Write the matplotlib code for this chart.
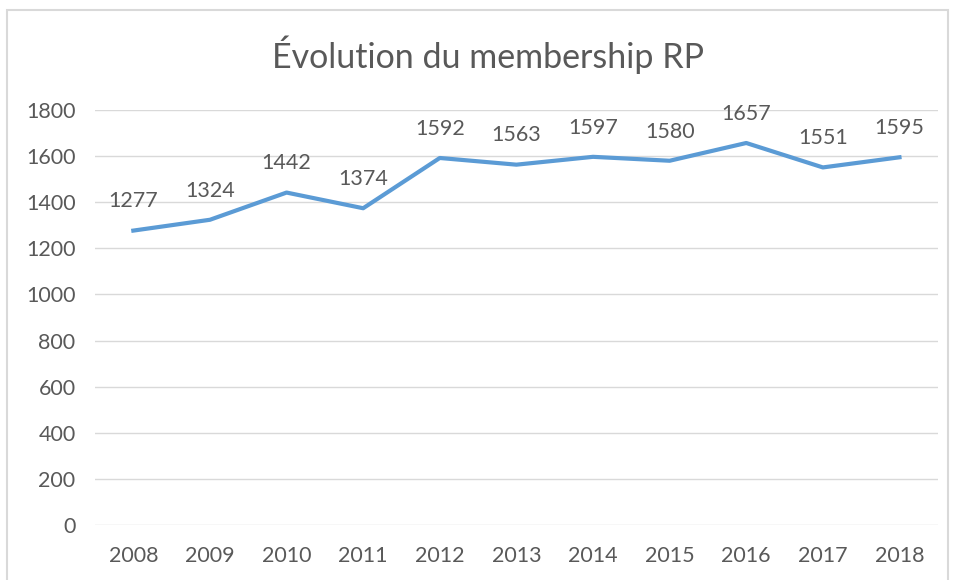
import matplotlib
matplotlib.use("Agg")
import matplotlib.pyplot as plt
from matplotlib.patches import Rectangle

years = ["2008", "2009", "2010", "2011", "2012", "2013", "2014", "2015", "2016", "2017", "2018"]
members = [1277, 1324, 1442, 1374, 1592, 1563, 1597, 1580, 1657, 1551, 1595]

plt.rcParams['font.family'] = ['Lato', 'DejaVu Sans']
grey = '#595959'

fig = plt.figure(figsize=(9.54, 5.8), dpi=100)
ax = fig.add_axes([0.0996, 0.0948, 0.8834, 0.7155])

x = list(range(len(years)))
ax.plot(x, members, color='#5B9BD5', lw=3, solid_joinstyle='round', zorder=3)
for xi, v in zip(x, members):
    ax.annotate(str(v), (xi, v), xytext=(0, 21), textcoords='offset points',
                ha='center', va='center', fontsize=15.5, color=grey)

ax.set_xlim(-0.5, len(years) - 0.5)
ax.set_ylim(0, 1800)
ax.set_yticks(range(0, 1801, 200))
ax.set_xticks(x)
ax.set_xticklabels(years)
ax.tick_params(length=0, labelsize=15.5, labelcolor=grey)
ax.tick_params(axis='y', pad=14)
ax.tick_params(axis='x', pad=15)
ax.grid(axis='y', color='#D9D9D9', lw=1)
ax.set_axisbelow(True)
for s in ax.spines.values():
    s.set_visible(False)

fig.text(0.512, 0.905, "Évolution du membership RP", ha='center', va='center',
         fontsize=24.5, color=grey)

# outer chart frame
fig.patches.append(Rectangle((7 / 954, -0.05), 941 / 954, 1.05 - 10 / 580,
                             transform=fig.transFigure, fill=False,
                             edgecolor='#D9D9D9', lw=1.5))

fig.savefig("out.png", dpi=100)
